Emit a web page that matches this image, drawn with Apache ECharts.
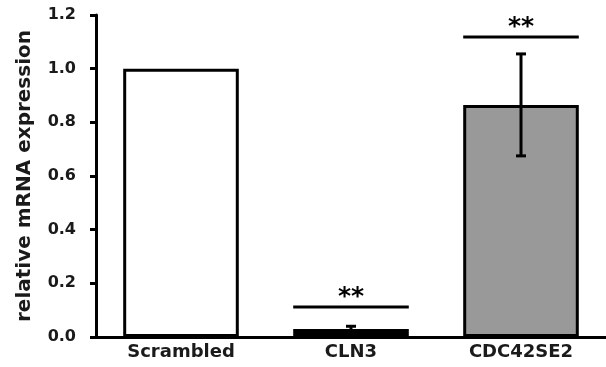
<!DOCTYPE html>
<html>
<head>
<meta charset="utf-8">
<script src="https://cdn.jsdelivr.net/npm/echarts@6/dist/echarts.min.js"></script>
<style>
  html, body { margin: 0; padding: 0; background: #fff; }
  #chart { width: 606px; height: 367px; }
</style>
</head>
<body>
<div id="chart"></div>
<script>
var categories = ['Scrambled', 'CLN3', 'CDC42SE2'];
var means = [1.0, 0.03, 0.865];
var errors = [0, 0.01, 0.19];
var sigLevels = [null, 0.112, 1.118];
var sigLabels = ['', '**', '**'];
var barColors = ['#ffffff', '#000000', '#999999'];

var FONT = 'DejaVu Sans';
var chart = echarts.init(document.getElementById('chart'));

// error bars: vertical line + caps
function renderError(params, api) {
    var i = api.value(0);
    var m = api.value(1), e = api.value(2);
    if (!e) return null;
    var top = api.coord([i, m + e]);
    var bot = api.coord([i, m - e]);
    var cap = 5;
    var st = { stroke: '#000', lineWidth: 3 };
    return {
        type: 'group',
        children: [
            { type: 'line', shape: { x1: top[0], y1: top[1], x2: bot[0], y2: bot[1] }, style: st },
            { type: 'line', shape: { x1: top[0] - cap, y1: top[1], x2: top[0] + cap, y2: top[1] }, style: st },
            { type: 'line', shape: { x1: bot[0] - cap, y1: bot[1], x2: bot[0] + cap, y2: bot[1] }, style: st }
        ]
    };
}

// significance line + stars above a bar
function renderSig(params, api) {
    var i = api.value(0);
    var lvl = api.value(1);
    if (lvl == null || isNaN(lvl)) return null;
    var p = api.coord([i, lvl]);
    var half = api.size([1, 0])[0] * 0.68 / 2;
    return {
        type: 'group',
        children: [
            { type: 'line', shape: { x1: p[0] - half, y1: p[1], x2: p[0] + half, y2: p[1] },
              style: { stroke: '#000', lineWidth: 3 } },
            { type: 'text', x: p[0], y: p[1] + 3,
              style: { text: sigLabels[i], fill: '#000', font: 'bold 25px ' + FONT,
                       textAlign: 'center', textVerticalAlign: 'bottom' } }
        ]
    };
}

chart.setOption({
    animation: false,
    grid: { left: 96, top: 15, width: 516, height: 322 },
    xAxis: {
        type: 'category',
        data: categories,
        axisLine: { lineStyle: { color: '#000', width: 3 } },
        axisTick: { show: false },
        axisLabel: { color: '#1a1a1a', fontFamily: FONT, fontWeight: 'bold', fontSize: 18, margin: 6 }
    },
    yAxis: {
        type: 'value',
        min: 0,
        max: 1.2,
        interval: 0.2,
        name: 'relative mRNA expression',
        nameLocation: 'middle',
        nameRotate: 90,
        nameGap: 61,
        nameTextStyle: { color: '#1a1a1a', fontFamily: FONT, fontWeight: 'bold', fontSize: 20 },
        axisLine: { show: true, lineStyle: { color: '#000', width: 3 } },
        axisTick: { show: true, length: 6, lineStyle: { color: '#000', width: 3 } },
        splitLine: { show: false },
        axisLabel: {
            color: '#1a1a1a', fontFamily: FONT, fontWeight: 'bold', fontSize: 16, margin: 20,
            formatter: function (v) { return v.toFixed(1); }
        }
    },
    series: [
        {
            type: 'bar',
            barWidth: '68%',
            data: means.map(function (v, i) {
                return { value: v, itemStyle: { color: barColors[i] } };
            }),
            itemStyle: { borderColor: '#000', borderWidth: 3 }
        },
        {
            type: 'custom',
            renderItem: renderError,
            data: means.map(function (v, i) { return [i, v, errors[i]]; }),
            z: 5
        },
        {
            type: 'custom',
            renderItem: renderSig,
            data: sigLevels.map(function (v, i) { return [i, v == null ? '-' : v]; }),
            z: 5
        }
    ]
});
</script>
</body>
</html>
